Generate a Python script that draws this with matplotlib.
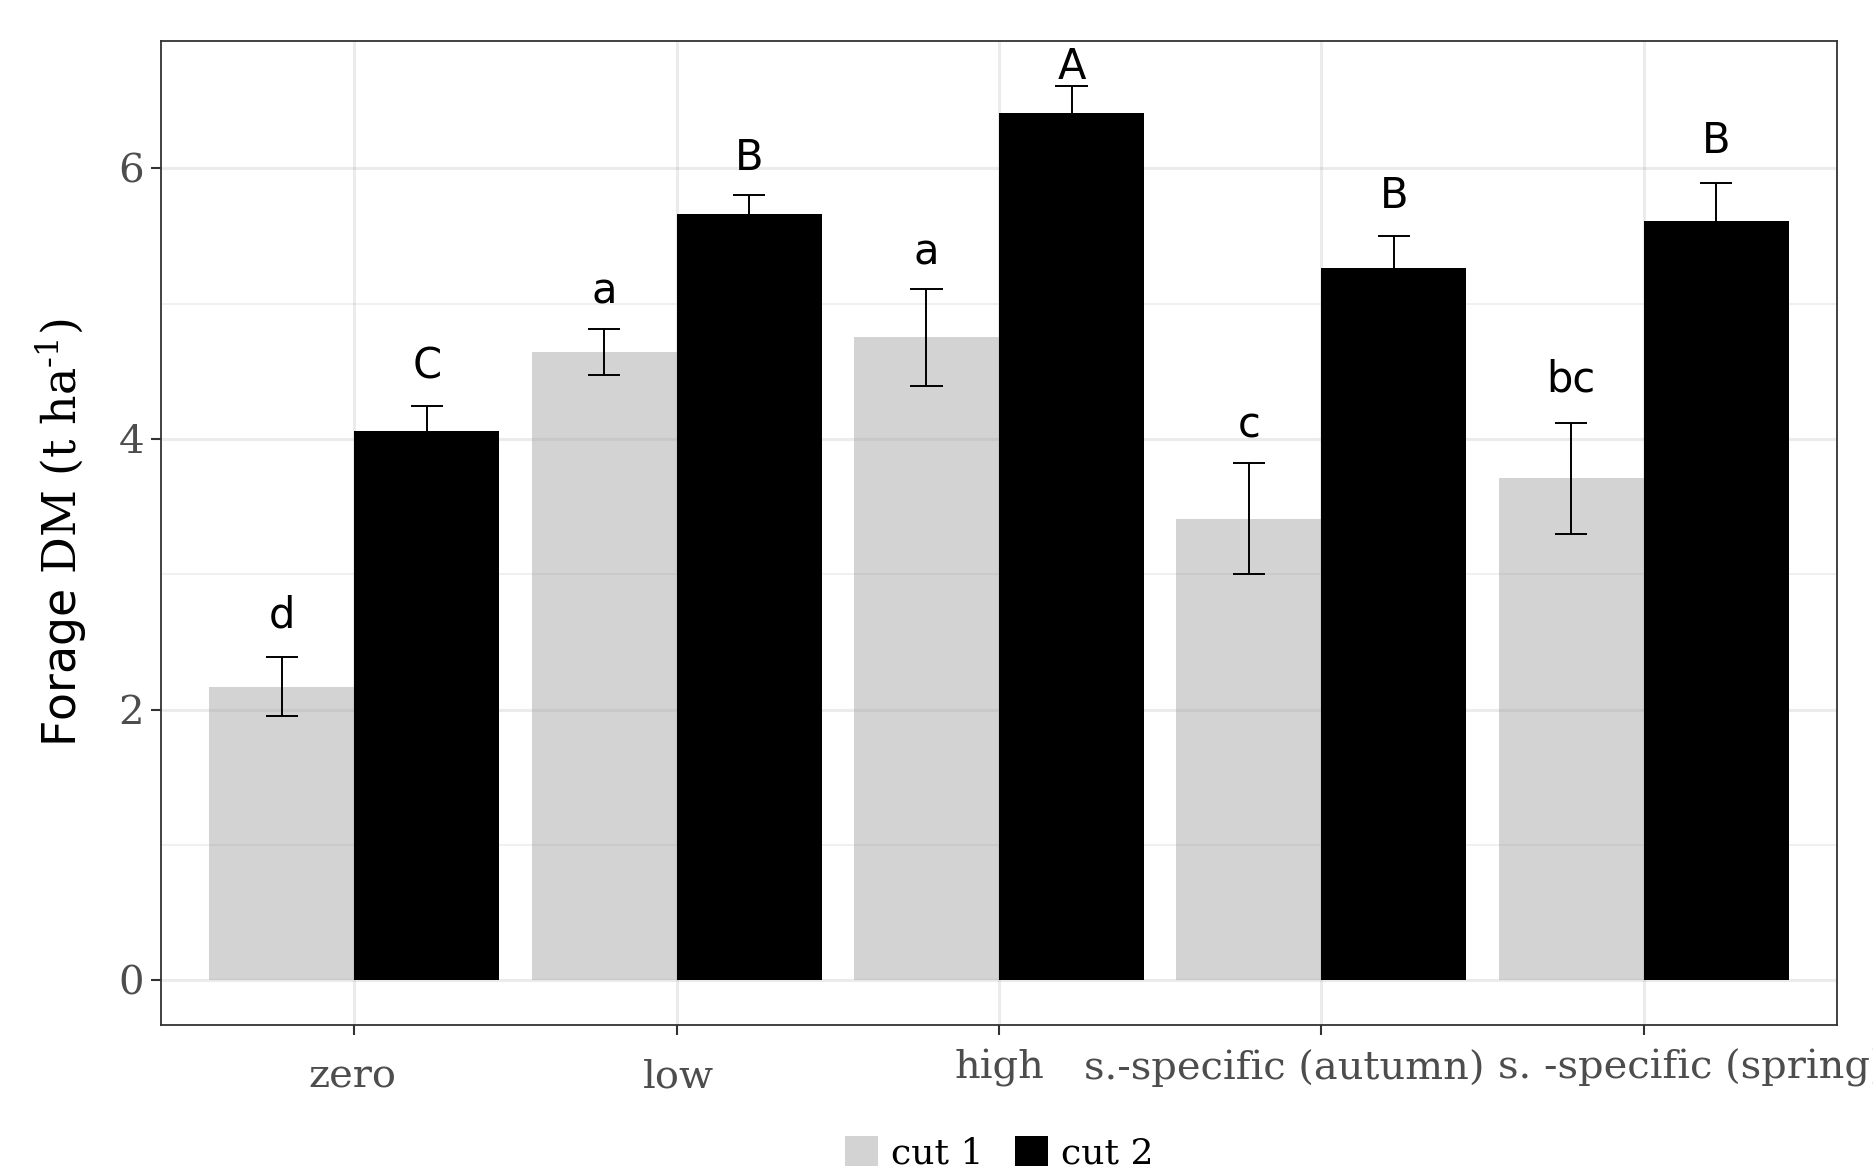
import matplotlib
matplotlib.use("Agg")
import matplotlib.pyplot as plt
import matplotlib.transforms as mtransforms
from matplotlib.patches import Patch
import numpy as np

# ---------------- data ----------------
categories = ["zero", "low", "high", "s.-specific (autumn)", "s. -specific (spring)"]
series_names = ["cut 1", "cut 2"]
cut1_mean = [2.17, 4.64, 4.75, 3.41, 3.71]
cut1_se = [0.22, 0.17, 0.36, 0.41, 0.41]
cut2_mean = [4.06, 5.66, 6.41, 5.26, 5.61]
cut2_se = [0.18, 0.14, 0.20, 0.24, 0.28]
cut1_letters = ["d", "a", "a", "c", "bc"]
cut2_letters = ["C", "B", "A", "B", "B"]
cut1_letter_y = [2.61, 5.00, 5.29, 4.01, 4.35]
cut2_letter_y = [4.45, 5.99, 6.66, 5.71, 6.11]
y_ticks = [0, 2, 4, 6]
y_label = "$\\mathsf{Forage}$ DM (t ha$^{\\mathrm{\u2010}1}$)"

# ---------------- style ----------------
plt.rcParams["mathtext.fontset"] = "dejavuserif"
W, H, DPI = 1873, 1167, 100
fig = plt.figure(figsize=(W / DPI, H / DPI), dpi=DPI)
fig.patch.set_facecolor("white")

px_left, px_right, px_top, px_bottom = 161, 1837, 41, 1025
ax = fig.add_axes([px_left / W, (H - px_bottom) / H,
                   (px_right - px_left) / W, (px_bottom - px_top) / H])

x = np.arange(1, len(categories) + 1)
bw = 0.45
c1_col = "#D3D3D3"
c2_col = "#000000"

ax.bar(x - bw / 2, cut1_mean, width=bw, color=c1_col, zorder=1, linewidth=0)
ax.bar(x + bw / 2, cut2_mean, width=bw, color=c2_col, zorder=3, linewidth=0)

cap = 0.05
for xs, m, s in [(x - bw / 2, cut1_mean, cut1_se), (x + bw / 2, cut2_mean, cut2_se)]:
    m = np.array(m); s = np.array(s)
    ax.vlines(xs, m - s, m + s, color="black", lw=1.4, zorder=4)
    ax.hlines(m + s, xs - cap, xs + cap, color="black", lw=1.4, zorder=4)
    ax.hlines(m - s, xs - cap, xs + cap, color="black", lw=1.4, zorder=4)

for xs, labs, ys in [(x - bw / 2, cut1_letters, cut1_letter_y),
                     (x + bw / 2, cut2_letters, cut2_letter_y)]:
    for xi, lab, yi in zip(xs, labs, ys):
        ax.text(xi, yi, lab, ha="center", va="baseline", fontsize=30,
                family="DejaVu Sans", color="black", zorder=5)

# axes limits (ggplot-like expansion)
top = max(np.max(np.array(cut1_mean) + np.array(cut1_se)),
          np.max(np.array(cut2_mean) + np.array(cut2_se)))
ax.set_ylim(-0.05 * top, top * 1.05)
ax.set_xlim(0.4, len(categories) + 0.6)

# grid
ax.set_axisbelow("line")
ax.set_yticks(y_ticks)
ax.set_yticks([1, 3, 5], minor=True)
ax.set_xticks(x)
grid_rgb = (157 / 255, 157 / 255, 157 / 255)
ax.grid(True, which="major", axis="both", color=grid_rgb, alpha=0.2, lw=2.2)
ax.grid(True, which="minor", axis="y", color=grid_rgb, alpha=0.2, lw=1.1)

for sp in ax.spines.values():
    sp.set_color("#333333")
    sp.set_linewidth(1.3)
    sp.set_zorder(6)

ax.tick_params(axis="both", which="major", color="#333333", width=1.5, length=7)
ax.tick_params(axis="y", which="minor", length=0)
ax.tick_params(axis="y", which="major", pad=5, labelsize=29, labelcolor="#4D4D4D")
for t in ax.get_yticklabels():
    t.set_family("DejaVu Serif")
ax.set_xticklabels([])

# x tick labels (with per-label nudges as in the original)
x_dx_px = [-2, 2, 0, -37, 48]
x_dy_px = [9, 9, 0, 0, 0]
base = mtransforms.blended_transform_factory(ax.transData, ax.transAxes)
for xi, lab, dx, dy in zip(x, categories, x_dx_px, x_dy_px):
    off = mtransforms.ScaledTranslation(dx / DPI, -(9 + 15 + dy) / DPI, fig.dpi_scale_trans)
    ax.text(xi, 0, lab, transform=base + off, ha="center", va="top",
            fontsize=28.8, family="DejaVu Serif", color="#4D4D4D", clip_on=False)

ax.set_ylabel(y_label, fontsize=33, family="DejaVu Serif", color="black")
ax.yaxis.set_label_coords((89 - px_left) / (px_right - px_left), 0.5)

handles = [Patch(facecolor=c1_col, edgecolor="none", label=series_names[0]),
           Patch(facecolor=c2_col, edgecolor="none", label=series_names[1])]
fig.legend(handles=handles, loc="upper center",
           bbox_to_anchor=((px_left + px_right) / 2 / W, (H - 1136) / H),
           ncol=2, frameon=False, prop={"family": "DejaVu Serif", "size": 26},
           handlelength=0.92, handleheight=0.92, handletextpad=0.36,
           columnspacing=0.86, borderpad=0, borderaxespad=0)

fig.savefig("out.png", dpi=DPI)
